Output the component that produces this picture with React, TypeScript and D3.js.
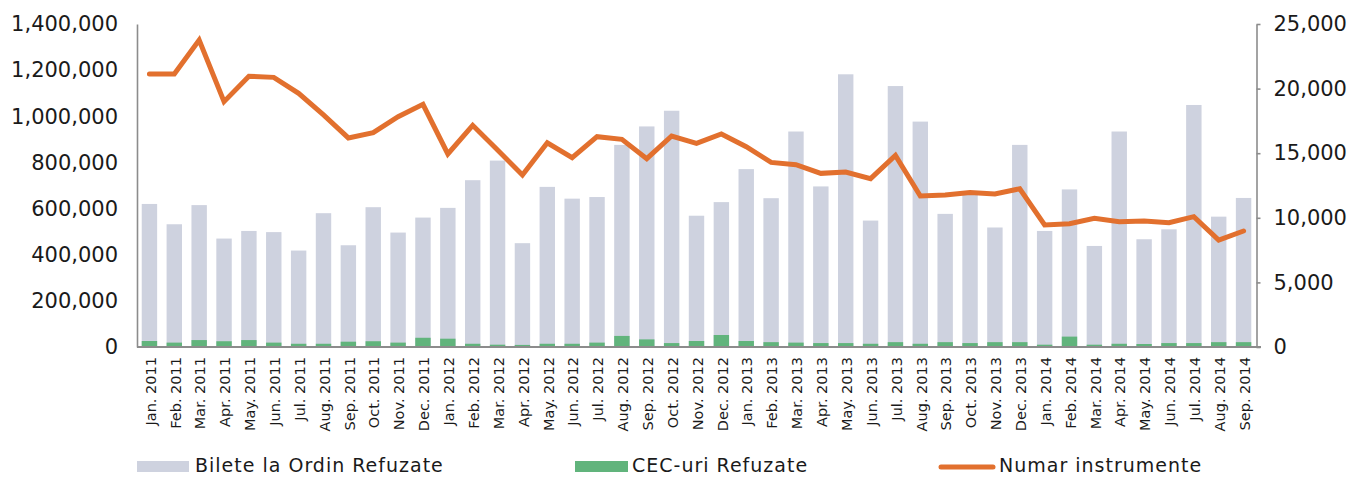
import * as d3 from "d3";
import React, { useEffect, useRef } from "react";

const months = [
  "Jan. 2011", "Feb. 2011", "Mar. 2011", "Apr. 2011", "May. 2011", "Jun. 2011",
  "Jul. 2011", "Aug. 2011", "Sep. 2011", "Oct. 2011", "Nov. 2011", "Dec. 2011",
  "Jan. 2012", "Feb. 2012", "Mar. 2012", "Apr. 2012", "May. 2012", "Jun. 2012",
  "Jul. 2012", "Aug. 2012", "Sep. 2012", "Oct. 2012", "Nov. 2012", "Dec. 2012",
  "Jan. 2013", "Feb. 2013", "Mar. 2013", "Apr. 2013", "May. 2013", "Jun. 2013",
  "Jul. 2013", "Aug. 2013", "Sep. 2013", "Oct. 2013", "Nov. 2013", "Dec. 2013",
  "Jan. 2014", "Feb. 2014", "Mar. 2014", "Apr. 2014", "May. 2014", "Jun. 2014",
  "Jul. 2014", "Aug. 2014", "Sep. 2014",
];

// Bilete la Ordin Refuzate (left axis)
const bilete = [
  620000, 532000, 615000, 470000, 503000, 498000, 418000, 580000, 441000, 606000, 496000, 561000,
  603000, 723000, 808000, 450000, 694000, 643000, 650000, 876000, 956000, 1024000, 569000, 628000,
  771000, 645000, 934000, 696000, 1182000, 548000, 1131000, 977000, 577000, 665000, 518000, 876000,
  503000, 683000, 438000, 934000, 467000, 510000, 1049000, 565000, 646000,
];

// CEC-uri Refuzate (left axis)
const cec = [
  26000, 19000, 30000, 25000, 30000, 19000, 14000, 14000, 23000, 25000, 19000, 40000,
  36000, 14000, 10000, 9000, 14000, 14000, 19000, 48000, 33000, 17000, 26000, 52000,
  26000, 21000, 19000, 17000, 17000, 14000, 21000, 14000, 21000, 17000, 21000, 21000,
  10000, 45000, 10000, 14000, 13000, 17000, 17000, 21000, 21000,
];

// Numar instrumente (right axis)
const instrumente = [
  21130, 21130, 23760, 18990, 20950, 20870, 19630, 17960, 16180, 16590, 17830, 18780,
  14940, 17160, 15250, 13310, 15810, 14650, 16280, 16070, 14580, 16330, 15760, 16490,
  15500, 14290, 14110, 13440, 13540, 13030, 14830, 11690, 11760, 11950, 11840, 12250,
  9440, 9540, 9960, 9700, 9750, 9620, 10090, 8280, 8980,
];

const leftTicks = [0, 200000, 400000, 600000, 800000, 1000000, 1200000, 1400000];
const rightTicks = [0, 5000, 10000, 15000, 20000, 25000];

const FONT = "'DejaVu Sans', sans-serif";
const GREY = "#ced2df";
const GREEN = "#61b47c";
const ORANGE = "#e2702e";
const AXIS = "#8c8c8c";

export default function App() {
  const svgRef = useRef<SVGSVGElement>(null);

  useEffect(() => {
    const svg = d3.select(svgRef.current);
    const width = 1354;
    const height = 477;
    const margin = { top: 24, right: 98, bottom: 130, left: 137 };

    svg.selectAll("*").remove();

    const x = d3
      .scaleBand()
      .domain(months)
      .range([margin.left, width - margin.right])
      .paddingInner(0.38)
      .paddingOuter(0.19);

    const yL = d3
      .scaleLinear()
      .domain([0, 1400000])
      .range([height - margin.bottom, margin.top]);

    const yR = d3
      .scaleLinear()
      .domain([0, 25000])
      .range([height - margin.bottom, margin.top]);

    // bars
    svg.append("g")
      .selectAll("rect")
      .data(bilete)
      .join("rect")
      .attr("x", (d, i) => x(months[i]))
      .attr("width", x.bandwidth())
      .attr("y", (d) => yL(d))
      .attr("height", (d) => yL(0) - yL(d))
      .attr("fill", GREY);

    svg.append("g")
      .selectAll("rect")
      .data(cec)
      .join("rect")
      .attr("x", (d, i) => x(months[i]))
      .attr("width", x.bandwidth())
      .attr("y", (d) => yL(d))
      .attr("height", (d) => yL(0) - yL(d))
      .attr("fill", GREEN);

    // left axis
    const gl = svg.append("g")
      .attr("transform", `translate(${margin.left},0)`)
      .call(d3.axisLeft(yL).tickValues(leftTicks).tickFormat(d3.format(",")).tickSize(0).tickSizeOuter(0).tickPadding(19));
    gl.select(".domain").attr("stroke", AXIS).attr("stroke-width", 1.6);
    gl.selectAll("text").attr("font-family", FONT).attr("font-size", 21).attr("fill", "#1a1a1a");

    // right axis
    const gr = svg.append("g")
      .attr("transform", `translate(${width - margin.right + 0.5},0)`)
      .call(d3.axisRight(yR).tickValues(rightTicks).tickFormat(d3.format(",")).tickSize(4).tickSizeOuter(0).tickPadding(13));
    gr.select(".domain").attr("stroke", AXIS).attr("stroke-width", 1.6);
    gr.selectAll("line").attr("stroke", AXIS).attr("stroke-width", 1.6);
    gr.selectAll("text").attr("font-family", FONT).attr("font-size", 21).attr("fill", "#1a1a1a");

    // bottom axis
    svg.append("line")
      .attr("x1", margin.left)
      .attr("x2", width - margin.right + 5)
      .attr("y1", yL(0))
      .attr("y2", yL(0))
      .attr("stroke", AXIS)
      .attr("stroke-width", 1.8);

    svg.append("g")
      .selectAll("text")
      .data(months)
      .join("text")
      .attr("transform", (d) => `translate(${x(d) + x.bandwidth() / 2 + 1},357) rotate(-90)`)
      .attr("text-anchor", "end")
      .attr("dy", "0.36em")
      .attr("font-family", FONT)
      .attr("font-size", 14.5)
      .attr("fill", "#1a1a1a")
      .text((d) => d);

    // line
    const line = d3
      .line<number>()
      .x((d, i) => x(months[i]) + x.bandwidth() / 2)
      .y((d) => yR(d));

    svg.append("path")
      .datum(instrumente)
      .attr("fill", "none")
      .attr("stroke", ORANGE)
      .attr("stroke-width", 5)
      .attr("stroke-linejoin", "miter")
      .attr("stroke-linecap", "round")
      .attr("d", line);

    // legend
    const legend = svg.append("g")
      .attr("font-family", FONT)
      .attr("font-size", 19)
      .attr("letter-spacing", 1)
      .attr("fill", "#1a1a1a");
    legend.append("rect").attr("x", 137).attr("y", 461).attr("width", 52).attr("height", 11).attr("fill", GREY);
    legend.append("text").attr("x", 195).attr("y", 472).text("Bilete la Ordin Refuzate");
    legend.append("rect").attr("x", 575).attr("y", 461).attr("width", 53).attr("height", 11).attr("fill", GREEN);
    legend.append("text").attr("x", 632).attr("y", 472).text("CEC-uri Refuzate");
    legend.append("line").attr("x1", 941).attr("x2", 993).attr("y1", 467).attr("y2", 467)
      .attr("stroke", ORANGE).attr("stroke-width", 5).attr("stroke-linecap", "round");
    legend.append("text").attr("x", 999).attr("y", 472).text("Numar instrumente");
  }, []);

  return (
    <svg
      ref={svgRef}
      width={1354}
      height={477}
      style={{ position: "absolute", left: 0, top: 0, background: "#fff" }}
    ></svg>
  );
}
